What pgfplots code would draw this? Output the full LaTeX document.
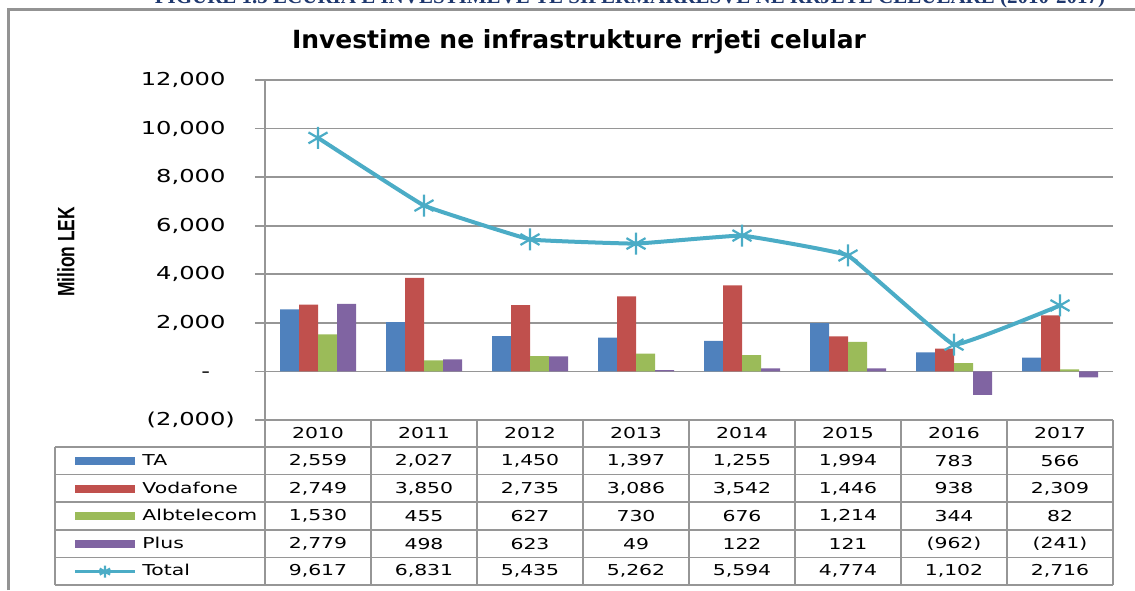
\documentclass[border=0pt]{standalone}
\usepackage{pgfplots}
\pgfplotsset{compat=1.18}
\usepackage{fontspec}
\setmainfont{DejaVu Sans}[FakeStretch=1.36]
\newfontfamily\titlefont{DejaVu Sans}
\newfontfamily\labfont{Liberation Sans}
\newfontfamily\capfont{Liberation Serif}

\definecolor{cTA}{RGB}{79,129,189}
\definecolor{cVod}{RGB}{192,80,77}
\definecolor{cAlb}{RGB}{155,187,89}
\definecolor{cPlus}{RGB}{128,100,162}
\definecolor{cTot}{RGB}{75,172,198}
\definecolor{gridc}{RGB}{150,150,150}
\definecolor{capc}{RGB}{31,56,110}

\newcommand\tabfont{\fontsize{7.5}{9}\selectfont}
\newcommand\trow[2]{\foreach \v [count=\i from 0] in {#2} \node[font=\tabfont] at ({318+106*\i},#1) {\v};}

\begin{document}
\begin{tikzpicture}[x=0.5pt,y=0.5pt]
\useasboundingbox (0,0) rectangle (1135,590);
% frame and caption
\draw[gray!85, line width=1.5pt] (8,0) -- (8,580) -- (1135,580);
\node[anchor=base, text=capc, inner sep=0pt, font=\capfont\bfseries\fontsize{10.5}{12}\selectfont] at (630,586)
  {FIGURE 1.5 ECURIA E INVESTIMEVE TE SIPERMARRESVE NE RRJETE CELULARE (2010-2017)};
% title
\node[font=\titlefont\bfseries\fontsize{12.5}{14}\selectfont] at (579,548) {Investime ne infrastrukture rrjeti celular};
% y label
\node[rotate=90, font=\labfont\bfseries\fontsize{8.7}{10}\selectfont] at (66,338) {\scalebox{1}[1.36]{Milion LEK}};

\begin{axis}[
  at={(132.5pt,85pt)}, anchor=south west,
  width=424pt, height=170pt, scale only axis,
  xmin=-0.5, xmax=7.5, ymin=-2000, ymax=12000,
  axis x line=none, axis y line*=left,
  xtick=\empty,
  ytick={-2000,0,2000,4000,6000,8000,10000,12000},
  scaled y ticks=false,
  yticklabels={{(2,000)},{-\phantom{0)}},{2,000\phantom{)}},{4,000\phantom{)}},{6,000\phantom{)}},{8,000\phantom{)}},{10,000\phantom{)}},{12,000\phantom{)}}},
  ymajorgrids, grid style={gridc, line width=0.9pt},
  axis line style={gridc, line width=0.9pt},
  tick style={gridc, line width=0.9pt},
  major tick length=5pt, tick align=outside,
  yticklabel style={font=\fontsize{8.9}{10}\selectfont, anchor=east, xshift=-6.5pt},
  legend style={at={(-0.2264,-0.0794)}, anchor=north west, draw=none, fill=none,
    inner sep=0pt, row sep=0pt, column sep=3pt, font=\tabfont,
    nodes={inner sep=0pt, minimum height=13.8pt, anchor=west}},
  legend cell align=left,
]
\addplot[ybar, bar width=9.5pt, bar shift=-14.25pt, fill=cTA, draw=none,
  legend image code/.code={\fill[cTA] (0pt,-2pt) rectangle (30pt,2pt);}]
  coordinates {(0,2559) (1,2027) (2,1450) (3,1397) (4,1255) (5,1994) (6,783) (7,566)};
\addplot[ybar, bar width=9.5pt, bar shift=-4.75pt, fill=cVod, draw=none,
  legend image code/.code={\fill[cVod] (0pt,-2pt) rectangle (30pt,2pt);}]
  coordinates {(0,2749) (1,3850) (2,2735) (3,3086) (4,3542) (5,1446) (6,938) (7,2309)};
\addplot[ybar, bar width=9.5pt, bar shift=4.75pt, fill=cAlb, draw=none,
  legend image code/.code={\fill[cAlb] (0pt,-2pt) rectangle (30pt,2pt);}]
  coordinates {(0,1530) (1,455) (2,627) (3,730) (4,676) (5,1214) (6,344) (7,82)};
\addplot[ybar, bar width=9.5pt, bar shift=14.25pt, fill=cPlus, draw=none,
  legend image code/.code={\fill[cPlus] (0pt,-2pt) rectangle (30pt,2pt);}]
  coordinates {(0,2779) (1,498) (2,623) (3,49) (4,122) (5,121) (6,-962) (7,-241)};
\addplot[cTot, line width=2pt, smooth, tension=0.12, mark=asterisk, mark size=5.5pt,
  mark options={line width=1.1pt, solid},
  legend image code/.code={\draw[cTot, line width=1.5pt] (0pt,0pt) -- (30pt,0pt);
    \draw[cTot, line width=0.6pt] plot[mark=asterisk, mark size=3pt] coordinates {(15pt,0pt)};}]
  coordinates {(0,9617) (1,6831) (2,5435) (3,5262) (4,5594) (5,4774) (6,1102) (7,2716)};
\legend{TA,Vodafone,Albtelecom,Plus,Total}
\end{axis}

% data table grid
\begin{scope}[gridc, line width=0.75pt]
\foreach \yy in {143,115.4,87.8,60.2,32.6,5} \draw (55,\yy) -- (1113,\yy);
\draw (55,143) -- (55,5);
\foreach \xx in {265,371,...,1113} \draw (\xx,170) -- (\xx,5);
\end{scope}
\foreach \yr [count=\i from 0] in {2010,...,2017} \node[font=\tabfont] at ({318+106*\i},156.5) {\yr};
\trow{129.2}{{2,559},{2,027},{1,450},{1,397},{1,255},{1,994},783,566}
\trow{101.6}{{2,749},{3,850},{2,735},{3,086},{3,542},{1,446},938,{2,309}}
\trow{74}{{1,530},455,627,730,676,{1,214},344,82}
\trow{46.4}{{2,779},498,623,49,122,121,(962),(241)}
\trow{18.8}{{9,617},{6,831},{5,435},{5,262},{5,594},{4,774},{1,102},{2,716}}
\end{tikzpicture}
\end{document}
